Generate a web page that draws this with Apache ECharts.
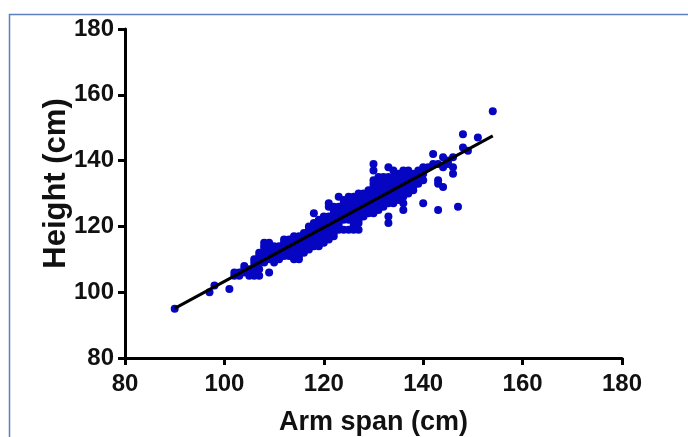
<!DOCTYPE html>
<html>
<head>
<meta charset="utf-8">
<script src="https://cdn.jsdelivr.net/npm/echarts@6/dist/echarts.min.js"></script>
<style>
html,body{margin:0;padding:0;background:#fff;}
#chart{width:688px;height:437px;}
</style>
</head>
<body>
<div id="chart"></div>
<script>
// Axis ticks
var xTicks = [80, 100, 120, 140, 160, 180];
var yTicks = [80, 100, 120, 140, 160, 180];

// Sparse lower-left points [arm span, height]
var lowerPoints = [[90,95],[97,100],[98,102],[101,101]];

// Dense band, listed by arm span column: [arm span, [heights...]]
var bandColumns = [
  [102, [105,106]],
  [103, [105,106]],
  [104, [106,107,108]],
  [105, [105,106,107]],
  [106, [105,107,108,109,110]],
  [107, [105,107,109,110,111,112]],
  [108, [109,110,111,112,113,114,115]],
  [109, [106,110,111,112,113,115]],
  [110, [109,110,111,112,113,114]],
  [111, [110,111,112,113,114]],
  [112, [111,112,114,115,116]],
  [113, [111,112,113,115,116]],
  [114, [110,112,113,114,115,116,117]],
  [115, [110,111,113,114,115,116,117]],
  [116, [112,113,114,115,116,117,118]],
  [117, [113,114,115,116,117,119,120]],
  [118, [114,115,116,117,118,119,120,121,124]],
  [119, [114,115,116,117,118,119,120,121,122]],
  [120, [115,116,117,118,119,120,121,122,123]],
  [121, [116,117,118,119,120,121,122,123,126,127]],
  [122, [117,118,119,120,121,122,123,124,125,126]],
  [123, [119,120,121,122,123,124,125,126,129]],
  [124, [119,122,123,124,125,126,127,128]],
  [125, [119,122,123,124,125,126,127,128,129]],
  [126, [119,120,121,122,123,124,125,126,127,128,129]],
  [127, [119,121,122,123,124,125,126,127,128,129,130]],
  [128, [123,124,125,126,127,128,129,130]],
  [129, [124,125,126,127,128,129,130,131]],
  [130, [124,125,126,127,128,129,130,131,132,133,134,137,139]],
  [131, [125,126,127,128,129,130,131,132,133,134,135]],
  [132, [126,127,128,129,130,131,132,133,134,135]],
  [133, [121,123,127,128,129,130,131,132,133,134,135,138]],
  [134, [127,128,129,130,131,132,133,134,135,137]],
  [135, [128,129,130,131,132,133,134,135,136]],
  [136, [125,127,129,130,131,132,133,134,135,137]],
  [137, [130,131,132,133,134,135,136,137]],
  [138, [131,132,133,134,135,136]],
  [139, [133,134,135,136,137]],
  [140, [127,134,136,137,138]]
];

// Sparse upper-right points
var upperPoints = [
  [141,138],[142,139],[142,142],[143,125],[143,133],[143,134],[143,139],
  [144,132],[144,138],[144,141],[145,139],[145,140],[146,136],[146,138],
  [146,141],[147,126],[148,144],[148,148],[149,143],[151,147],[154,155]
];

// Linear fit endpoints
var fitX = [90, 154];
var fitY = [95.1, 147.5];

var scatterData = lowerPoints.slice();
bandColumns.forEach(function (c) {
  c[1].forEach(function (h) { scatterData.push([c[0], h]); });
});
upperPoints.forEach(function (p) { scatterData.push(p); });

var chart = echarts.init(document.getElementById('chart'), null, {renderer: 'canvas'});
var axisFont = 'Liberation Sans, Arial, sans-serif';
chart.setOption({
  animation: false,
  backgroundColor: '#ffffff',
  graphic: [{
    type: 'rect',
    shape: {x: 9.5, y: 14.5, width: 700, height: 450},
    style: {fill: 'none', stroke: '#5b7fc0', lineWidth: 1.5},
    silent: true
  }],
  grid: {left: 125, right: 66, top: 29, bottom: 79, containLabel: false, outerBoundsMode: 'none'},
  xAxis: {
    type: 'value', min: xTicks[0], max: xTicks[xTicks.length - 1], interval: 20,
    name: 'Arm span (cm)', nameLocation: 'middle', nameGap: 51,
    nameTextStyle: {fontFamily: axisFont, fontWeight: 'bold', fontSize: 27, color: '#111'},
    axisLine: {show: true, lineStyle: {color: '#000', width: 3}},
    axisTick: {show: true, length: 7, lineStyle: {color: '#000', width: 3}},
    axisLabel: {fontFamily: axisFont, fontWeight: 'bold', fontSize: 24, color: '#111', margin: 14},
    splitLine: {show: false}
  },
  yAxis: {
    type: 'value', min: yTicks[0], max: yTicks[yTicks.length - 1], interval: 20,
    name: 'Height (cm)', nameLocation: 'middle', nameGap: 53, nameRotate: 90,
    nameMoveOverlap: false,
    nameTextStyle: {fontFamily: axisFont, fontWeight: 'bold', fontSize: 31, color: '#111', padding: [0, 0, 0, 20]},
    axisLine: {show: true, lineStyle: {color: '#000', width: 3}},
    axisTick: {show: true, length: 7, lineStyle: {color: '#000', width: 3}},
    axisLabel: {fontFamily: axisFont, fontWeight: 'bold', fontSize: 24, color: '#111', margin: 11},
    splitLine: {show: false}
  },
  series: [
    {
      type: 'scatter',
      data: scatterData,
      symbol: 'circle',
      symbolSize: 8,
      itemStyle: {color: '#0606c2', opacity: 1},
      z: 2
    },
    {
      type: 'line',
      data: [[fitX[0], fitY[0]], [fitX[1], fitY[1]]],
      showSymbol: false,
      lineStyle: {color: '#000', width: 3},
      z: 3
    }
  ]
});
</script>
</body>
</html>
